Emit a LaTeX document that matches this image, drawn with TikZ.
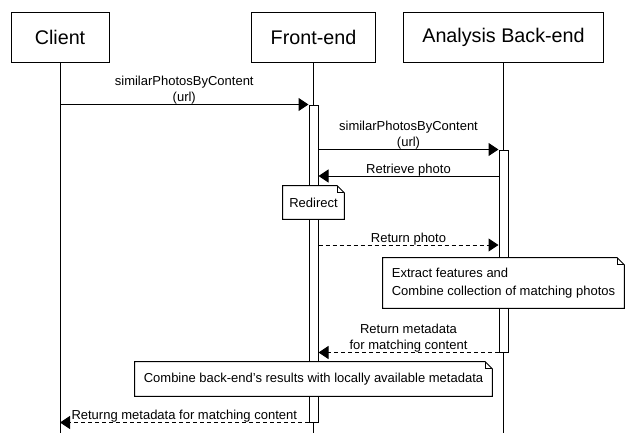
\documentclass[tikz,border=0pt]{standalone}
\usepackage{fontspec}
\setmainfont{Liberation Sans}
\usetikzlibrary{arrows.meta,positioning,calc}
\tikzset{
  actor/.style={draw=black,fill=white,line width=0.75pt,minimum height=37.5pt,
    inner sep=0pt,font=\fontsize{14.8}{17}\selectfont},
  lifeline/.style={line width=0.75pt},
  actbar/.style={draw=black,fill=white,line width=0.75pt,minimum width=6.75pt,inner sep=0pt},
  call/.style={line width=0.75pt,-{Triangle[length=7.5pt,width=9.75pt]}},
  reply/.style={call,dash pattern=on 3pt off 2.25pt},
  msglabel/.style={font=\fontsize{9.75}{11.8}\selectfont,align=center,inner sep=0pt,yshift=-0.2pt},
  notebox/.style={fill=white,inner sep=0pt,align=left,font=\fontsize{9.75}{13.5}\selectfont}
}
% note outline with folded corner
\newcommand{\dognote}[1]{%
  \draw[line width=0.75pt] (#1.north west) -- ($(#1.north east)+(-7,0)$)
    -- ($(#1.north east)+(0,7)$) -- (#1.south east) -- (#1.south west) -- cycle;
  \draw[line width=0.75pt] ($(#1.north east)+(-7,0)$) -- ($(#1.north east)+(-7,7)$)
    -- ($(#1.north east)+(0,7)$);}

\begin{document}
\begin{tikzpicture}[x=0.75pt,y=-0.75pt]
  \useasboundingbox (0,0) rectangle (642,433);
  \coordinate (bottom) at (0,433);
  \coordinate (retr) at (0,176);
  \coordinate (ret) at (0,245);

  % participants
  \node[actor,minimum width=73.5pt] (client) at (60,37) {Client};
  \node[actor,minimum width=93pt] (front) at (313.5,37) {Front-end};
  \node[actor,minimum width=150pt] (back) at (503.5,37) {Analysis Back-end};

  % lifelines
  \draw[lifeline] (client.south) -- (client.south |- bottom);
  \draw[lifeline] (front.south) -- (front.south |- bottom);
  \draw[lifeline] (back.south) -- (back.south |- bottom);

  % activations
  \node[actbar,minimum height=237.75pt] (febar) at (313.5,263.5) {};
  \node[actbar,minimum height=151.5pt] (bebar) at (503.5,251) {};

  % messages
  \draw[call] (client |- febar.north) -- (febar.north west)
    node[midway,above,msglabel]{similarPhotosByContent\\(url)};
  \draw[call] (febar.east |- bebar.north) -- (bebar.north west)
    node[midway,above,msglabel]{similarPhotosByContent\\(url)};
  \draw[call] (bebar.west |- retr) -- (febar.east |- retr)
    node[midway,above,msglabel]{Retrieve photo};
  \draw[reply] (febar.east |- ret) -- (bebar.west |- ret)
    node[midway,above,msglabel]{Return photo};
  \draw[reply] (bebar.south west) -- (febar.east |- bebar.south)
    node[midway,above,msglabel]{Return metadata\\for matching content};
  \draw[reply] (febar.south west) -- (client |- febar.south)
    node[midway,above,msglabel]{Returng metadata for matching content};

  % notes
  \node[notebox,minimum width=45.75pt,minimum height=24.75pt] (redirect) at (313.5,202.5) {Redirect};
  \dognote{redirect}
  \node[notebox,minimum width=180.75pt,minimum height=37.5pt] (extract) at (503.5,283)
    {Extract features and\\Combine collection of matching photos};
  \dognote{extract}
  \node[notebox,minimum width=267.75pt,minimum height=25.5pt] (combine) at (313.5,379)
    {Combine back-end's results with locally available metadata};
  \dognote{combine}
\end{tikzpicture}
\end{document}
